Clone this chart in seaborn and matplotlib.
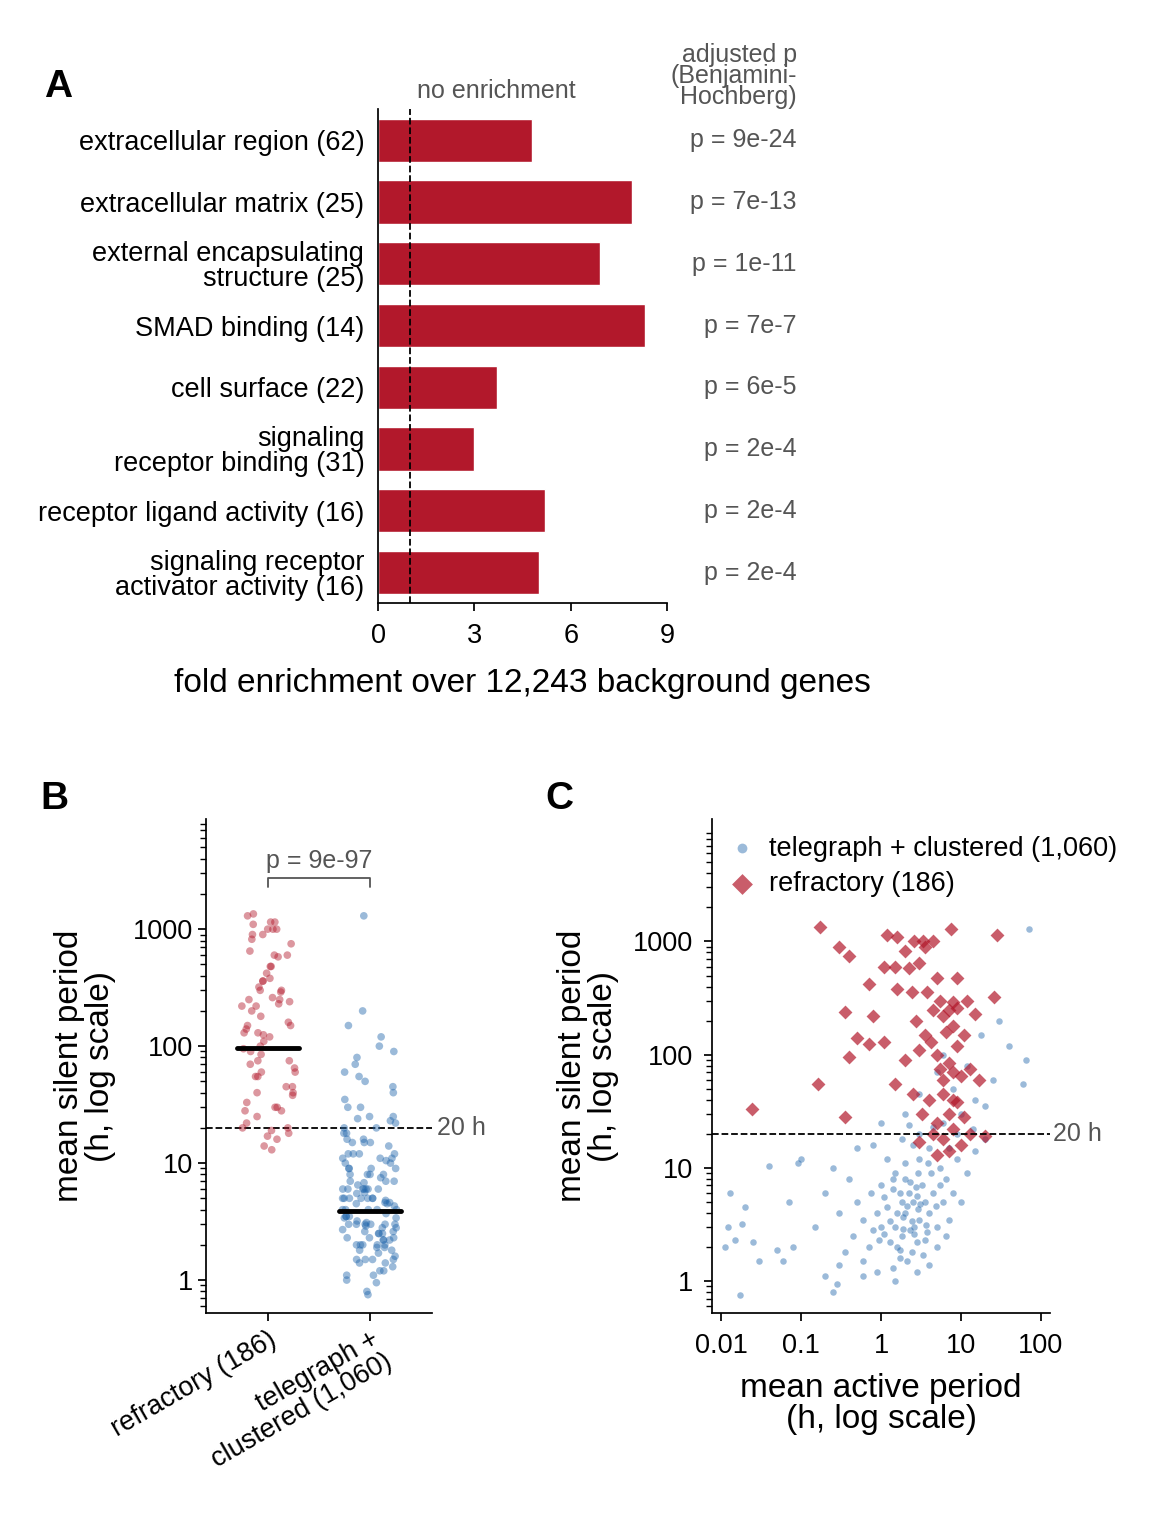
import matplotlib
matplotlib.use("Agg")
import matplotlib.pyplot as plt
import seaborn as sns
import numpy as np
import pandas as pd

sns.set_theme(style="ticks")
plt.rcParams['font.family'] = ['Liberation Sans', 'DejaVu Sans']
plt.rcParams['text.color'] = 'black'
plt.rcParams['axes.labelcolor'] = 'black'
plt.rcParams['xtick.color'] = 'black'
plt.rcParams['ytick.color'] = 'black'
plt.rcParams['axes.edgecolor'] = 'black'

terms = ["extracellular region (62)", "extracellular matrix (25)",
         "external encapsulating\nstructure (25)", "SMAD binding (14)",
         "cell surface (22)", "signaling\nreceptor binding (31)",
         "receptor ligand activity (16)", "signaling receptor\nactivator activity (16)"]
fold = [4.8, 7.9, 6.9, 8.3, 3.7, 3.0, 5.2, 5.0]
pvals = ["p = 9e-24", "p = 7e-13", "p = 1e-11", "p = 7e-7",
         "p = 6e-5", "p = 2e-4", "p = 2e-4", "p = 2e-4"]

ref_pairs = [(0.17,1350),(0.3,900),(0.4,750),(1.2,1150),(1.6,1100),(2,820),(2.6,1000),(3.3,1000),(3.5,900),(4.5,1000),(7.5,1300),(28,1150),(1.1,600),(1.5,600),(2.2,580),(3,650),(5,480),(9,480),(0.7,420),(1.6,380),(2.4,360),(3.8,360),(5.5,300),(8,290),(12,300),(26,320),(0.35,240),(0.8,220),(2.7,200),(4.5,250),(6,220),(7,250),(9,260),(15,230),(0.5,140),(0.7,125),(1.1,130),(3.5,150),(4.2,130),(6.5,160),(8,180),(11,150),(0.4,95),(2,90),(3,110),(5,100),(7,85),(9,120),(5.5,75),(8,70),(13,75),(17,60),(1.5,55),(0.16,55),(2.5,45),(4,40),(6,45),(9,38),(0.35,28),(0.024,33),(3.2,30),(5,25),(7,30),(11,28),(4.5,20),(6,18),(8,22),(10,16),(7,14),(5,13),(13,20),(20,19),(3,17),(8,40),(6,60),(10,65)]
tel_pairs = [(2,4),(1.5,3),(2.5,5),(1.8,2.5),(3,3.5),(1.2,4.5),(2.2,6),(1,3),(0.8,2.8),(1.6,2),(2.8,2.2),(3.5,5),(4,4),(1.4,6.5),(2,8),(2.6,3),(1.9,3.7),(1.3,2.2),(0.9,4),(3.2,7),(4.5,6),(5,3),(2.4,1.8),(1.7,1.6),(0.7,2),(0.6,3.5),(1.1,5.5),(2.9,4.3),(3.8,2.7),(6,5),(6.5,8),(5.5,10),(3,12),(2,11),(1.5,9),(1,7),(0.5,5),(0.45,2.5),(2.3,2.8),(1.8,5),(2.7,6.8),(4.2,9),(8,6),(9,12),(7,15),(4,15),(2.5,16),(1.2,12),(0.4,8),(0.3,4),(0.35,1.8),(1.4,1.3),(2.1,1.5),(3.3,1.7),(0.9,1.2),(0.6,1.5),(5,2),(7,3.5),(10,5),(12,9),(15,14),(20,18),(3,20),(1.8,18),(0.8,16),(6,25),(10,30),(15,40),(20,35),(25,60),(8,50),(5,70),(3,45),(2,30),(1,25),(0.5,15),(0.25,10),(0.2,6),(0.15,3),(0.3,1.4),(0.2,1.1),(0.25,0.8),(0.28,0.95),(0.6,1.1),(1.5,1),(0.011,2),(0.012,3),(0.015,2.3),(0.018,3.2),(0.013,6),(0.02,4.5),(0.017,0.75),(0.03,1.5),(0.025,2.2),(0.04,10.5),(0.05,1.9),(0.06,1.5),(0.07,5),(0.08,2),(0.09,11),(0.1,12),(60,55),(65,90),(70,1300),(30,200),(40,120),(12,80),(18,150),(6,100),(2.2,24),(4.5,23),(9,20),(14,22),(3.5,2.3),(2.6,2.6),(1.9,2.9),(2.4,3.4),(3.1,4.8),(1.6,4),(2.1,4.6),(2.8,5.6),(1.3,3.4),(3.6,3.1),(4.8,4.6),(1.1,2.6),(2.3,7.5),(1.7,6),(2.9,9),(3.9,11),(1.4,8),(0.75,6),(5.5,7),(4,1.4),(2.8,1.2),(1.7,1.9),(0.95,2.3),(6.5,2.5)]
ref_active = [a for a, s in ref_pairs]
ref_silent = [s for a, s in ref_pairs]
tel_active = [a for a, s in tel_pairs]
tel_silent = [s for a, s in tel_pairs]
groups = ["refractory (186)", "telegraph +\nclustered (1,060)"]
medians = [97, 3.9]

RED = "#b2182b"; BLUE = "#2166ac"; GREY = "#555555"
TS = 19.5; LS = 24; PS = 18
fig = plt.figure(figsize=(11.6, 15.2), dpi=100)

# Panel A
axA = fig.add_axes([0.326, 0.603, 0.249, 0.325])
dfA = pd.DataFrame({"term": terms, "fold": fold})
sns.barplot(data=dfA, y="term", x="fold", color=RED, saturation=1, width=0.7, ax=axA)
axA.axvline(1, color="black", ls="--", lw=1.3)
axA.set_xlim(0, 9); axA.set_xticks([0, 3, 6, 9])
axA.set_ylabel("")
axA.set_xlabel("fold enrichment over 12,243 background genes", fontsize=LS, labelpad=14)
axA.tick_params(axis="y", length=0, labelsize=TS, pad=10)
axA.tick_params(axis="x", labelsize=TS, length=6, pad=8)
sns.despine(ax=axA)
for lab in axA.get_yticklabels():
    lab.set_linespacing(0.95)
for i, p in enumerate(pvals):
    axA.text(1.45, i, p, transform=axA.get_yaxis_transform(), ha="right", va="center", fontsize=PS, color=GREY)
axA.text(1.45, 1.0, "adjusted p\n(Benjamini-\nHochberg)", transform=axA.transAxes, ha="right", va="bottom", fontsize=PS, color=GREY, linespacing=0.85)
axA.text(1.2, -0.6, "no enrichment", ha="left", va="bottom", fontsize=PS, color=GREY)
fig.text(0.038, 0.936, "A", fontsize=28, fontweight="bold")

# Panel B
axB = fig.add_axes([0.178, 0.136, 0.194, 0.325])
dfB = pd.DataFrame({"group": [groups[0]]*len(ref_silent) + [groups[1]]*len(tel_silent),
                    "silent": ref_silent + tel_silent})
sns.stripplot(data=dfB, x="group", y="silent", hue="group", palette=[RED, BLUE],
              jitter=0.27, size=5.5, alpha=0.45, linewidth=0, legend=False, ax=axB, log_scale=True)
for i, m in enumerate(medians):
    axB.plot([i - 0.3, i + 0.3], [m, m], color="black", lw=3.5, zorder=5)
axB.set_yscale("log")
axB.set_ylim(0.52, 8700)
axB.set_xlim(-0.6, 1.6)
axB.axhline(20, color="black", ls="--", lw=1.3)
axB.text(1.65, 20, "20 h", va="center", ha="left", fontsize=PS, color=GREY)
axB.plot([0, 0, 1, 1], [2300, 2750, 2750, 2300], color=GREY, lw=1.3)
axB.text(0.5, 3000, "p = 9e-97", ha="center", va="bottom", fontsize=PS, color=GREY)
axB.set_yticks([1, 10, 100, 1000]); axB.set_yticklabels(["1", "10", "100", "1000"])
axB.tick_params(labelsize=TS, length=6)
axB.set_xticks([0, 1]); axB.set_xticklabels(groups, rotation=30, ha="right", rotation_mode="anchor", fontsize=TS, linespacing=1.0)
axB.set_xlabel("")
axB.set_ylabel("mean silent period\n(h, log scale)", fontsize=LS, linespacing=1.0, labelpad=12)
sns.despine(ax=axB)
fig.text(0.035, 0.468, "B", fontsize=28, fontweight="bold")

# Panel C
axC = fig.add_axes([0.614, 0.136, 0.291, 0.325])
dfT = pd.DataFrame({"active": tel_active, "silent": tel_silent})
dfR = pd.DataFrame({"active": ref_active, "silent": ref_silent})
sns.scatterplot(data=dfT, x="active", y="silent", color=BLUE, s=22, alpha=0.45, linewidth=0,
                label="telegraph + clustered (1,060)", ax=axC)
sns.scatterplot(data=dfR, x="active", y="silent", color=RED, marker="D", s=50, alpha=0.7, linewidth=0,
                label="refractory (186)", ax=axC)
axC.set_xscale("log"); axC.set_yscale("log")
axC.set_xlim(0.0077, 129); axC.set_ylim(0.52, 12000)
axC.axhline(20, color="black", ls="--", lw=1.3)
axC.text(1.01, 20, "20 h", transform=axC.get_yaxis_transform(), va="center", ha="left", fontsize=PS, color=GREY)
axC.set_xticks([0.01, 0.1, 1, 10, 100]); axC.set_xticklabels(["0.01", "0.1", "1", "10", "100"])
axC.set_yticks([1, 10, 100, 1000]); axC.set_yticklabels(["1", "10", "100", "1000"])
axC.tick_params(labelsize=TS, length=6, pad=8)
axC.set_xlabel("mean active period\n(h, log scale)", fontsize=LS, linespacing=1.0, labelpad=10)
axC.set_ylabel("mean silent period\n(h, log scale)", fontsize=LS, linespacing=1.0, labelpad=10)
leg = axC.legend(loc="upper left", frameon=False, fontsize=TS, handlelength=1.0, handletextpad=0.5,
                 borderaxespad=0.2, markerscale=1.5, labelspacing=0.35)
sns.despine(ax=axC)
fig.text(0.47, 0.468, "C", fontsize=28, fontweight="bold")

fig.savefig("out.png", dpi=100)
